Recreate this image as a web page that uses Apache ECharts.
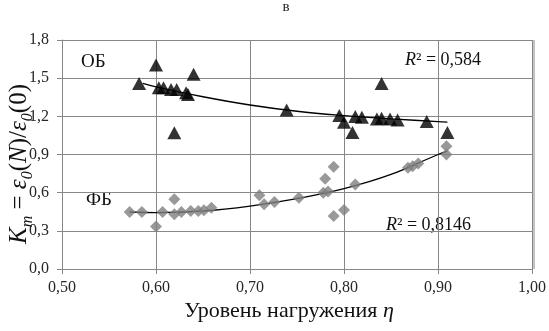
<!DOCTYPE html>
<html><head><meta charset="utf-8">
<script src="https://cdn.jsdelivr.net/npm/echarts@6/dist/echarts.min.js"></script>
<style>html,body{margin:0;padding:0;background:#fff}#c{width:549px;height:331px}</style>
</head><body><div id="c"></div>
<script>
// ОБ (triangles)
var obX = [0.582,0.600,0.603,0.608,0.616,0.622,0.632,0.634,0.640,0.6195,0.739,0.795,0.800,0.812,0.819,0.835,0.840,0.849,0.857,0.888,0.910,0.809,0.840];
var obY = [1.459,1.604,1.424,1.424,1.411,1.411,1.385,1.372,1.530,1.070,1.250,1.206,1.154,1.198,1.193,1.180,1.185,1.180,1.172,1.159,1.073,1.073,1.459];
// ФБ (diamonds)
var fbX = [0.572,0.585,0.600,0.607,0.6195,0.6195,0.627,0.637,0.645,0.651,0.659,0.710,0.715,0.726,0.752,0.778,0.783,0.780,0.789,0.789,0.800,0.812,0.868,0.873,0.879,0.909,0.909];
var fbY = [0.448,0.448,0.335,0.448,0.548,0.430,0.448,0.456,0.456,0.461,0.482,0.579,0.508,0.526,0.561,0.600,0.610,0.710,0.804,0.417,0.464,0.665,0.796,0.808,0.829,0.965,0.900];
// trend lines
var obTrendX = [0.586,0.60,0.65,0.70,0.75,0.80,0.85,0.90,0.91];
var obTrendY = [1.459,1.432,1.354,1.289,1.240,1.206,1.180,1.159,1.154];
var fbTrendX = [0.572,0.60,0.65,0.70,0.75,0.80,0.85,0.90,0.91];
var fbTrendY = [0.448,0.443,0.456,0.495,0.553,0.631,0.743,0.900,0.926];
// axis ticks
var xTicks = [0.50,0.60,0.70,0.80,0.90,1.00];
var yTicks = [0.0,0.3,0.6,0.9,1.2,1.5,1.8];

function zip(a,b){return a.map(function(v,i){return [v,b[i]];});}
var serif = 'Liberation Serif';
var grid = '#878787';
var chart = echarts.init(document.getElementById('c'));
chart.setOption({
  animation:false,
  grid:{left:62,right:15,top:40,bottom:62,containLabel:false},
  xAxis:{type:'value',min:xTicks[0],max:xTicks[xTicks.length-1],interval:0.1,
    axisLine:{show:true,lineStyle:{color:grid,width:1}},
    axisTick:{show:true,length:5,lineStyle:{color:grid}},
    splitLine:{show:true,lineStyle:{color:grid,width:1}},
    axisLabel:{fontFamily:serif,fontSize:16,color:'#262626',margin:11,
      formatter:function(v){return v.toFixed(2).replace('.',',');}}
  },
  yAxis:{type:'value',min:yTicks[0],max:yTicks[yTicks.length-1],interval:0.3,
    axisLine:{show:true,lineStyle:{color:grid,width:1}},
    axisTick:{show:true,length:5,lineStyle:{color:grid}},
    splitLine:{show:true,lineStyle:{color:grid,width:1}},
    axisLabel:{fontFamily:serif,fontSize:16,color:'#262626',margin:13,
      formatter:function(v){return v.toFixed(1).replace('.',',');}}
  },
  graphic:[
    {type:'line',shape:{x1:534,y1:40,x2:534,y2:269},style:{stroke:grid,lineWidth:1},silent:true},
    {type:'text',x:286,y:7,style:{text:'в',font:'15px Liberation Serif',fill:'#222',align:'center',verticalAlign:'middle'}},
    {type:'text',x:81,y:62,style:{text:'ОБ',font:'19px Liberation Serif',fill:'#111',align:'left',verticalAlign:'middle'}},
    {type:'text',x:86,y:200,style:{text:'ФБ',font:'19px Liberation Serif',fill:'#111',align:'left',verticalAlign:'middle'}},
    {type:'text',x:405,y:60,style:{text:'{i|R}{n|² = 0,584}',align:'left',verticalAlign:'middle',
      rich:{i:{fontFamily:serif,fontSize:18,fontStyle:'italic',fill:'#111'},n:{fontFamily:serif,fontSize:18,fill:'#111'}}}},
    {type:'text',x:386,y:225,style:{text:'{i|R}{n|² = 0,8146}',align:'left',verticalAlign:'middle',
      rich:{i:{fontFamily:serif,fontSize:18,fontStyle:'italic',fill:'#111'},n:{fontFamily:serif,fontSize:18,fill:'#111'}}}},
    {type:'text',x:289,y:311,style:{text:'{n|Уровень нагружения }{i|η}',align:'center',verticalAlign:'middle',
      rich:{i:{fontFamily:serif,fontSize:22,fontStyle:'italic',fill:'#111'},n:{fontFamily:serif,fontSize:22,fill:'#111'}}}},
    {type:'text',x:18,y:164,rotation:Math.PI/2,style:{
      text:'{i|K}{s|m}{n| = }{i|ε}{s|0}{n|(}{i|N}{n|)/}{i|ε}{s|0}{n|(0)}',align:'center',verticalAlign:'middle',
      rich:{
        i:{fontFamily:serif,fontSize:25,fontStyle:'italic',fill:'#111',lineHeight:28,verticalAlign:'bottom'},
        n:{fontFamily:serif,fontSize:25,fill:'#111',lineHeight:28,verticalAlign:'bottom'},
        s:{fontFamily:serif,fontSize:16,fontStyle:'italic',fill:'#111',lineHeight:16,verticalAlign:'bottom',padding:[0,0,-4,0]}
      }}}
  ],
  series:[
    {type:'line',data:zip(obTrendX,obTrendY),smooth:0.4,symbol:'none',lineStyle:{color:'#000',width:1.3},z:3},
    {type:'line',data:zip(fbTrendX,fbTrendY),smooth:0.4,symbol:'none',lineStyle:{color:'#000',width:1.3},z:3},
    {type:'scatter',data:zip(obX,obY),symbol:'triangle',symbolSize:[14,13],itemStyle:{color:'#000'},z:4},
    {type:'scatter',data:zip(fbX,fbY),symbol:'diamond',symbolSize:12,itemStyle:{color:'#808080'},z:4}
  ]
});
</script></body></html>
